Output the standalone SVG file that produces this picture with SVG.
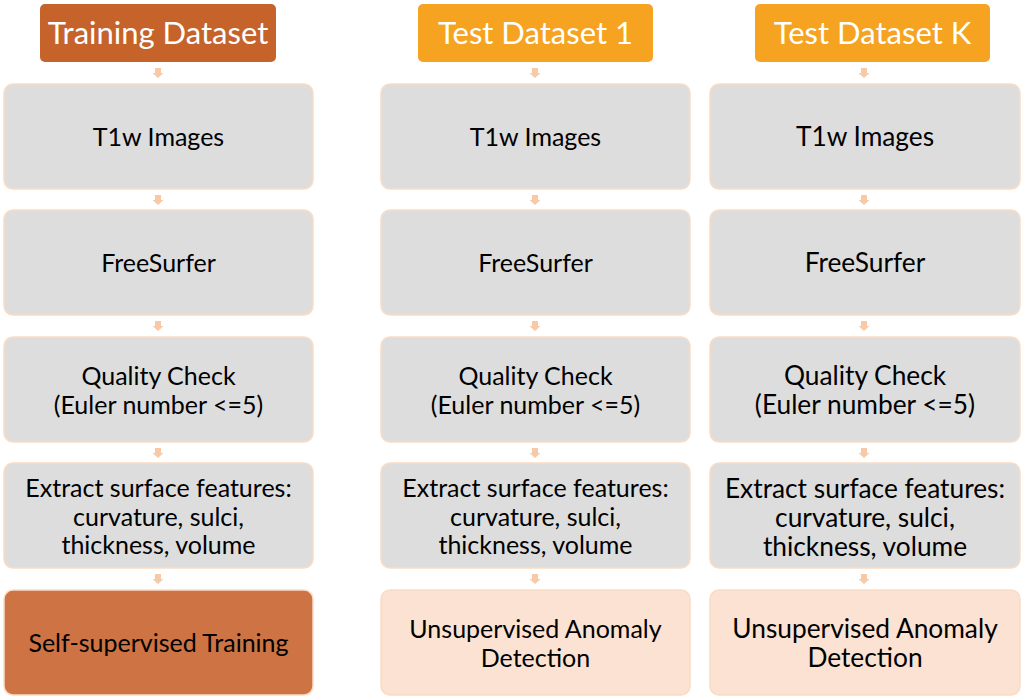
<svg xmlns="http://www.w3.org/2000/svg" width="1023" height="698" viewBox="0 0 1023 698">
  <defs>
    <style>
      .hdr-train { fill: #C5632B; }
      .hdr-test { fill: #F5A320; }
      .step { fill: #DDDDDD; stroke: #FBDCC4; stroke-width: 1.5; }
      .train-out { fill: #CD7344; stroke: #FBDCC4; stroke-width: 1.5; }
      .test-out { fill: #FBE2D2; stroke: #FBDCC4; stroke-width: 1.5; }
      .hdr-text { font-family: "Lato", "Open Sans", sans-serif; font-size: 31px; fill: #FFFFFF; text-anchor: middle; }
      .txt { font-family: "Lato", "Open Sans", sans-serif; font-size: 25px; fill: #000000; text-anchor: middle; }
      .colk .txt { font-size: 26.3px; }
      .arrow { fill: #F8C9A6; }
    </style>
    <path id="down" class="arrow" d="M-3,-5 H3 V0 H5.5 L0,5 L-5.5,0 H-3 Z"/>
  </defs>

  <!-- Column 1: training pipeline -->
  <g id="train-header">
    <rect class="hdr-train" x="40" y="4" width="236" height="58" rx="5"/>
    <text class="hdr-text" x="158" y="44">Training Dataset</text>
  </g>
  <g id="train-t1w">
    <rect class="step" x="4" y="84" width="309" height="105" rx="9"/>
    <text class="txt" x="158.5" y="146">T1w Images</text>
  </g>
  <g id="train-freesurfer">
    <rect class="step" x="4" y="210" width="309" height="105" rx="9"/>
    <text class="txt" x="158.5" y="272">FreeSurfer</text>
  </g>
  <g id="train-qc">
    <rect class="step" x="4" y="337" width="309" height="105" rx="9"/>
    <text class="txt" x="158.5" y="385">Quality Check</text>
    <text class="txt" x="158.5" y="414">(Euler number &lt;=5)</text>
  </g>
  <g id="train-features">
    <rect class="step" x="4" y="463" width="309" height="105" rx="9"/>
    <text class="txt" x="158.5" y="497">Extract surface features:</text>
    <text class="txt" x="158.5" y="526">curvature, sulci,</text>
    <text class="txt" x="158.5" y="554">thickness, volume</text>
  </g>
  <g id="train-ssl">
    <rect class="train-out" x="4" y="590" width="309" height="105" rx="9"/>
    <text class="txt" x="158.5" y="652">Self-supervised Training</text>
  </g>

  <!-- Column 2: test dataset 1 -->
  <g id="test1-header">
    <rect class="hdr-test" x="418" y="4" width="235" height="58" rx="5"/>
    <text class="hdr-text" x="535.5" y="44">Test Dataset 1</text>
  </g>
  <g id="test1-t1w">
    <rect class="step" x="381" y="84" width="309" height="105" rx="9"/>
    <text class="txt" x="535.5" y="146">T1w Images</text>
  </g>
  <g id="test1-freesurfer">
    <rect class="step" x="381" y="210" width="309" height="105" rx="9"/>
    <text class="txt" x="535.5" y="272">FreeSurfer</text>
  </g>
  <g id="test1-qc">
    <rect class="step" x="381" y="337" width="309" height="105" rx="9"/>
    <text class="txt" x="535.5" y="385">Quality Check</text>
    <text class="txt" x="535.5" y="414">(Euler number &lt;=5)</text>
  </g>
  <g id="test1-features">
    <rect class="step" x="381" y="463" width="309" height="105" rx="9"/>
    <text class="txt" x="535.5" y="497">Extract surface features:</text>
    <text class="txt" x="535.5" y="526">curvature, sulci,</text>
    <text class="txt" x="535.5" y="554">thickness, volume</text>
  </g>
  <g id="test1-anomaly">
    <rect class="test-out" x="381" y="590" width="309" height="105" rx="9"/>
    <text class="txt" x="535.5" y="638">Unsupervised Anomaly</text>
    <text class="txt" x="535.5" y="667">Detection</text>
  </g>

  <!-- Column 3: test dataset K (slightly larger type) -->
  <g id="testk-header">
    <rect class="hdr-test" x="755" y="4" width="235" height="58" rx="5"/>
    <text class="hdr-text" x="872.5" y="44">Test Dataset K</text>
  </g>
  <g id="testk-t1w" class="colk">
    <rect class="step" x="710" y="84" width="310" height="105" rx="9"/>
    <text class="txt" x="865" y="146">T1w Images</text>
  </g>
  <g id="testk-freesurfer" class="colk">
    <rect class="step" x="710" y="210" width="310" height="105" rx="9"/>
    <text class="txt" x="865" y="272">FreeSurfer</text>
  </g>
  <g id="testk-qc" class="colk">
    <rect class="step" x="710" y="337" width="310" height="105" rx="9"/>
    <text class="txt" x="865" y="385">Quality Check</text>
    <text class="txt" x="865" y="414">(Euler number &lt;=5)</text>
  </g>
  <g id="testk-features" class="colk">
    <rect class="step" x="710" y="463" width="310" height="105" rx="9"/>
    <text class="txt" x="865" y="498">Extract surface features:</text>
    <text class="txt" x="865" y="527">curvature, sulci,</text>
    <text class="txt" x="865" y="556">thickness, volume</text>
  </g>
  <g id="testk-anomaly" class="colk">
    <rect class="test-out" x="710" y="590" width="310" height="105" rx="9"/>
    <text class="txt" x="865" y="638">Unsupervised Anomaly</text>
    <text class="txt" x="865" y="667">Detection</text>
  </g>

  <!-- Connectors: small block arrows between stages -->
  <g id="connectors">
    <use href="#down" x="158" y="73"/>
    <use href="#down" x="158" y="200"/>
    <use href="#down" x="158" y="326"/>
    <use href="#down" x="158" y="453"/>
    <use href="#down" x="158" y="579"/>
    <use href="#down" x="535" y="73"/>
    <use href="#down" x="535" y="200"/>
    <use href="#down" x="535" y="326"/>
    <use href="#down" x="535" y="453"/>
    <use href="#down" x="535" y="579"/>
    <use href="#down" x="864" y="73"/>
    <use href="#down" x="864" y="200"/>
    <use href="#down" x="864" y="326"/>
    <use href="#down" x="864" y="453"/>
    <use href="#down" x="864" y="579"/>
  </g>
</svg>
